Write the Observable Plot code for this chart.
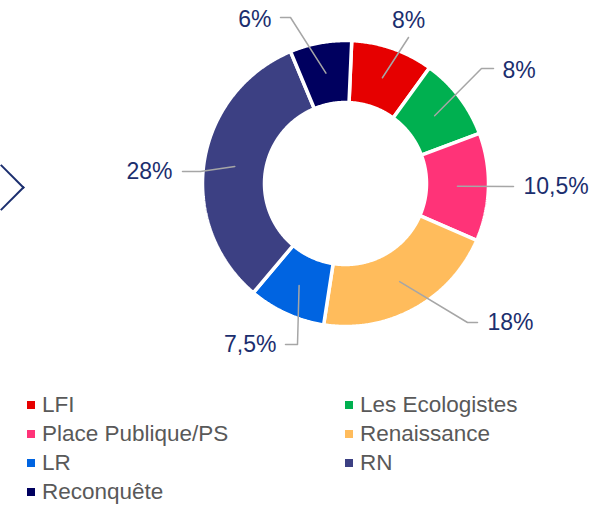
<!DOCTYPE html>
<html>
<head>
<meta charset="utf-8">
<script src="https://cdn.jsdelivr.net/npm/d3@7"></script>
<script src="https://cdn.jsdelivr.net/npm/@observablehq/plot@0.6"></script>
<style>
  html, body { margin: 0; padding: 0; background: #fff; overflow: hidden; }
  body { width: 613px; height: 505px; position: relative; font-family: "Liberation Sans", Arial, sans-serif; }
  #chart { position: absolute; left: 0; top: 0; }
  .chevron { position: absolute; left: -15px; top: 170.5px; width: 33px; height: 33px; box-sizing: border-box;
    border-top: 2.5px solid #1B2E6E; border-right: 2.5px solid #1B2E6E; transform: rotate(45deg); }
  #legend { position: absolute; left: 27px; top: 390px; display: grid; grid-template-columns: 318px auto;
    font-size: 22.5px; line-height: 29px; color: #595959; }
  #legend .item { display: flex; align-items: center; white-space: nowrap; }
  #legend .sw { width: 8px; height: 8px; margin-right: 7px; flex: none; }
</style>
</head>
<body>
<div class="chevron"></div>
<div id="chart"></div>
<div id="legend"></div>
<script>
// ---- data ----
const parties = ["LFI", "Les Ecologistes", "Place Publique/PS", "Renaissance", "LR", "RN", "Reconquête"];
const shares = [8, 8, 10.5, 18, 7.5, 28, 6];
const shareLabels = ["8%", "8%", "10,5%", "18%", "7,5%", "28%", "6%"];
const colors = ["#E60000", "#00B050", "#FF3378", "#FFBC5C", "#0064E1", "#3C4083", "#00005F"];

// ---- layout (pixels relative to the donut centre, y downward) ----
const W = 613, H = 380, CX = 345, CY = 183, R = 143, RIN = 81;
const rotation = 2.5 * Math.PI / 180;
const labelLayout = {
  "LFI":               {elbow: [63, -146],  end: [63, -146],  text: [63, -163],  anchor: "middle"},
  "Les Ecologistes":   {elbow: [136, -115], end: [148, -115], text: [157, -113], anchor: "start"},
  "Place Publique/PS": {elbow: [168, 3],    end: [168, 3],    text: [178, 3],    anchor: "start"},
  "Renaissance":       {elbow: [122, 139],  end: [132, 139],  text: [142, 139],  anchor: "start"},
  "LR":                {elbow: [-48, 161],  end: [-60, 161],  text: [-69, 161],  anchor: "end"},
  "RN":                {elbow: [-145, -12], end: [-163, -12], text: [-173, -12], anchor: "end"},
  "Reconquête":        {elbow: [-55, -166], end: [-65, -166], text: [-74, -164], anchor: "end"}
};

// convert pixel offsets to data units (1 unit = outer radius)
const px = ([dx, dy]) => ({x: dx / R, y: -dy / R});

const arcs = d3.pie().sort(null).value(d => d)
  .startAngle(rotation).endAngle(rotation + 2 * Math.PI)(shares);

const rIn = RIN / R;
const slicePts = [];
arcs.forEach((a, i) => {
  const party = parties[i];
  const n = Math.max(8, Math.ceil((a.endAngle - a.startAngle) / (Math.PI / 360)));
  const ring = [];
  for (let k = 0; k <= n; k++) {
    const t = a.startAngle + (a.endAngle - a.startAngle) * k / n;
    ring.push({party, x: Math.sin(t), y: Math.cos(t)});
  }
  for (let k = n; k >= 0; k--) {
    const t = a.startAngle + (a.endAngle - a.startAngle) * k / n;
    ring.push({party, x: rIn * Math.sin(t), y: rIn * Math.cos(t)});
  }
  ring.push({...ring[0]});
  slicePts.push(...ring);
});

const rMid = 112 / R;
const leaderPts = [];
const labelRows = [];
arcs.forEach((a, i) => {
  const party = parties[i];
  const m = (a.startAngle + a.endAngle) / 2;
  const L = labelLayout[party];
  leaderPts.push({party, x: rMid * Math.sin(m), y: rMid * Math.cos(m)});
  leaderPts.push({party, ...px(L.elbow)});
  leaderPts.push({party, ...px(L.end)});
  labelRows.push({party, label: shareLabels[i], anchor: L.anchor, ...px(L.text)});
});

const textMark = anchor => Plot.text(labelRows.filter(d => d.anchor === anchor), {
  x: "x", y: "y", text: "label", textAnchor: anchor, fill: "#1B2E6E",
  fontSize: 23, fontFamily: "Liberation Sans, Arial, sans-serif"
});

const chart = Plot.plot({
  width: W, height: H, margin: 0,
  x: {domain: [-CX / R, (W - CX) / R], axis: null},
  y: {domain: [(CY - H) / R, CY / R], axis: null},
  color: {domain: parties, range: colors},
  style: {background: "transparent"},
  marks: [
    Plot.line(slicePts, {x: "x", y: "y", z: "party", fill: "party", stroke: "white", strokeWidth: 3.5, curve: "linear", strokeLinejoin: "miter"}),
    Plot.line(leaderPts, {x: "x", y: "y", z: "party", stroke: "#A6A6A6", strokeWidth: 1.5, curve: "linear"}),
    textMark("start"), textMark("middle"), textMark("end")
  ]
});
document.getElementById("chart").appendChild(chart);

// legend: two columns, row-major
const legend = document.getElementById("legend");
parties.forEach((p, i) => {
  const item = document.createElement("div");
  item.className = "item";
  const sw = document.createElement("span");
  sw.className = "sw";
  sw.style.background = colors[i];
  const tx = document.createElement("span");
  tx.textContent = p;
  item.appendChild(sw); item.appendChild(tx);
  legend.appendChild(item);
});
</script>
</body>
</html>
